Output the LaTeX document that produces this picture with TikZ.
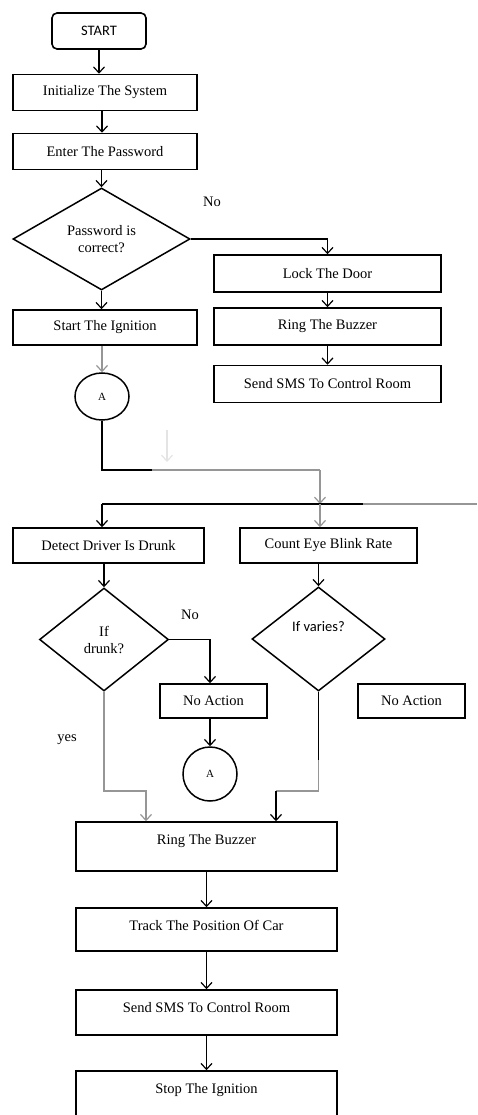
\documentclass[tikz,border=0pt]{standalone}
\usepackage{fontspec}
\setmainfont{Liberation Serif}
\newfontfamily\calfont{Carlito}
\usetikzlibrary{positioning, shapes.geometric, arrows.meta}
\definecolor{faded}{RGB}{150,150,150}
\definecolor{ghost}{RGB}{228,228,228}
\newcommand{\boxfont}{\fontsize{14.5}{17}\selectfont}
\tikzset{
  startbox/.style={rectangle, rounded corners=5pt, draw, line width=1.6pt, minimum width=94pt, minimum height=36pt, font=\calfont\boxfont},
  procbox/.style={rectangle, draw, line width=1.5pt, inner sep=2pt, font=\boxfont, align=center},
  leftbox/.style={procbox, minimum width=184pt, minimum height=36pt},
  rightbox/.style={procbox, minimum width=227pt, minimum height=37pt},
  actbox/.style={procbox, minimum width=107pt, minimum height=34pt},
  tallbox/.style={procbox, minimum width=261pt, text height=15pt, inner ysep=7pt, text depth=#1},
  decision/.style={diamond, draw, line width=1.5pt, inner sep=0pt, align=center, font=\boxfont},
  onpage/.style={ellipse, draw, line width=1.5pt, inner sep=0pt, minimum width=54pt, minimum height=#1, font=\fontsize{11}{13}\selectfont},
  note/.style={font=\boxfont, inner sep=1pt},
  line/.style={line width=1.2pt},
  flow/.style={line, -{Straight Barb[length=6pt, width=11pt]}},
}
\begin{document}
\begin{tikzpicture}[x=1pt, y=-1pt]
\useasboundingbox (0,0) rectangle (477,1115);
\node[startbox] (start) at (99,31) {START};
\node[leftbox] (init) at (105,92.5) {Initialize The System};
\node[leftbox] (pass) at (105,151.5) {Enter The Password};
\node[decision, minimum width=177pt, minimum height=102pt] (check) at (101.5,239) {Password is\\ correct?};
\node[rightbox] (lock) at (327.5,273.5) {Lock The Door};
\node[rightbox] (ringa) at (327.5,326.5) {Ring The Buzzer};
\node[rightbox] (smsa) at (327.5,384) {Send SMS To Control Room};
\node[leftbox, minimum height=35pt] (ignite) at (105,327.5) {Start The Ignition};
\node[onpage=47pt] (pagea) at (102,396.5) {A};
\node[leftbox, minimum width=191pt, minimum height=35pt] (detect) at (108.5,545.5) {Detect Driver Is Drunk};
\node[leftbox, minimum width=177pt, minimum height=35pt] (count) at (328.5,545.5) {Count Eye Blink Rate};
\node[decision, minimum width=129pt, minimum height=103pt] (drunk) at (104,639.5) {If\\ drunk?};
\node[decision, minimum width=133pt, minimum height=104pt, font=\calfont\boxfont] (varies) at (318.5,639) {\raisebox{12pt}[\height][\depth]{If varies?}};
\node[actbox] (noacta) at (213.5,701) {No Action};
\node[actbox] (noactb) at (411.5,701) {No Action};
\node[onpage=54pt] (pageb) at (210,774) {A};
\node[tallbox=20pt] (ringb) at (206.5,846.5) {Ring The Buzzer};
\node[tallbox=14pt] (track) at (206.5,929.5) {Track The Position Of Car};
\node[tallbox=16pt] (smsb) at (206.5,1012.5) {Send SMS To Control Room};
\node[tallbox=22pt] (stop) at (206.5,1096.5) {Stop The Ignition};

\node[note] (nocheck) at (212,202) {No};
\node[note] (nodrunk) at (190,615) {No};
\node[note] (yesdrunk) at (67,740) {yes};

\coordinate (joina) at (102,470);
\coordinate (fadea) at (152,470);
\coordinate (joinb) at (320,470);
\coordinate (splitl) at (102,504);
\coordinate (splitr) at (320,504);
\coordinate (darkend) at (363,504);
\coordinate (rimend) at (477,504);
\coordinate (ghosttop) at (167,430);
\coordinate (ghostend) at (167,462);
\coordinate (yesbend) at (104,791);
\coordinate (yesturn) at (146,791);
\coordinate (varfade) at (318.5,760);
\coordinate (varbend) at (318.5,791);
\coordinate (varturn) at (276,791);

\draw[flow] (start) -- (start |- init.north);
\draw[flow] ([xshift=-3pt]init.south) -- ([xshift=-3pt]pass.north);
\draw[flow] (pass.south -| check.north) -- (check.north);
\draw[flow] (check.east) -| (lock.north);
\draw[flow] (lock) -- (ringa);
\draw[flow] (ringa) -- (smsa);
\draw[flow] (check.south) -- (check.south |- ignite.north);
\draw[flow, faded] (ignite.south -| pagea.north) -- (pagea.north);
\draw[line] (pagea.south) -- (joina) -- (fadea);
\draw[line, faded] (fadea) -- (joinb);
\draw[flow, faded] (joinb) -- (splitr);
\draw[flow, ghost] (ghosttop) -- (ghostend);
\draw[line] (splitl) -- (darkend);
\draw[line, faded] (darkend) -- (rimend);
\draw[flow] (splitl) -- (splitl |- detect.north);
\draw[flow, faded] (splitr) -- (splitr |- count.north);
\draw[flow] (detect.south -| drunk.north) -- (drunk.north);
\draw[flow] (count.south -| varies.north) -- (varies.north);
\draw[flow] (drunk.east) -| (pageb |- noacta.north);
\draw[flow] (pageb |- noacta.south) -- (pageb.north);
\draw[flow, faded] (drunk.south) -- (yesbend) -- (yesturn) -- (yesturn |- ringb.north);
\draw[line] (varies.south) -- (varfade);
\draw[line, faded] (varfade) -- (varbend) -- (varturn);
\draw[flow] (varturn) -- (varturn |- ringb.north);
\draw[flow] (ringb) -- (track);
\draw[flow] (track) -- (smsb);
\draw[flow] (smsb) -- (stop);
\end{tikzpicture}
\end{document}
